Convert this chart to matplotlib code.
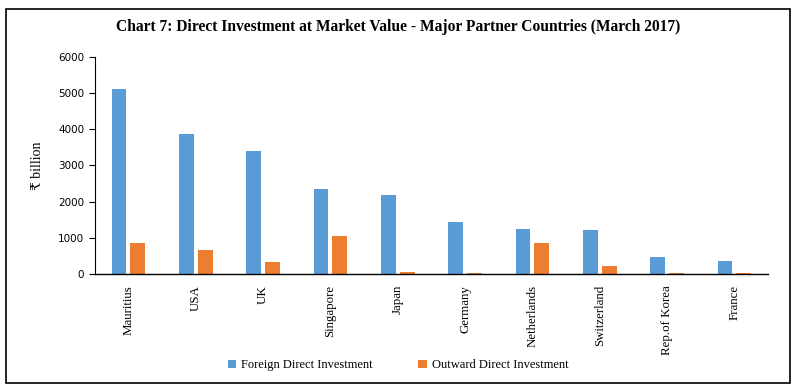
import matplotlib.pyplot as plt
import numpy as np
from matplotlib.patches import Rectangle

countries = ['Mauritius', 'USA', 'UK', 'Singapore', 'Japan', 'Germany',
             'Netherlands', 'Switzerland', 'Rep.of Korea', 'France']
fdi = [5100, 3860, 3390, 2360, 2170, 1430, 1250, 1220, 470, 350]
odi = [850, 660, 320, 1060, 45, 40, 850, 220, 40, 40]

blue = '#5B9BD5'
orange = '#ED7D31'
serif = ['Liberation Serif', 'DejaVu Serif', 'DejaVu Sans']

fig = plt.figure(figsize=(7.96, 3.92), dpi=100)
ax = fig.add_axes([0.119, 0.301, 0.846, 0.554])

x = np.arange(len(countries))
w = 0.22
ax.bar(x - 0.14, fdi, w, color=blue, label='Foreign Direct Investment')
ax.bar(x + 0.14, odi, w, color=orange, label='Outward Direct Investment')

ax.set_xlim(-0.5, len(countries) - 0.5)
ax.set_ylim(0, 6000)
ax.set_yticks(range(0, 6001, 1000))
ax.tick_params(axis='y', labelsize=7.5, length=4, width=0.8)
ax.set_xticks(x)
ax.set_xticklabels(countries, rotation=90, fontsize=9.3, family=serif, va='top')
ax.tick_params(axis='x', length=0, pad=8)
for s in ['top', 'right']:
    ax.spines[s].set_visible(False)
ax.spines['left'].set_linewidth(0.8)
ax.spines['bottom'].set_linewidth(1.0)

ax.set_ylabel('₹ billion', fontsize=10, family=serif, labelpad=10)

fig.text(0.5, 0.93, 'Chart 7: Direct Investment at Market Value - Major Partner Countries (March 2017)',
         ha='center', va='center', fontsize=11.2, fontweight='bold', family=serif)

fig.legend(loc='center', bbox_to_anchor=(0.5, 0.068), ncol=2, frameon=False,
           prop={'family': serif, 'size': 9}, handlelength=0.7, handleheight=0.7,
           columnspacing=3.6, handletextpad=0.4)

fig.patches.append(Rectangle((0.008, 0.022), 0.984, 0.956, transform=fig.transFigure,
                             fill=False, edgecolor='black', linewidth=1.2))

fig.savefig('out.png', dpi=100)
